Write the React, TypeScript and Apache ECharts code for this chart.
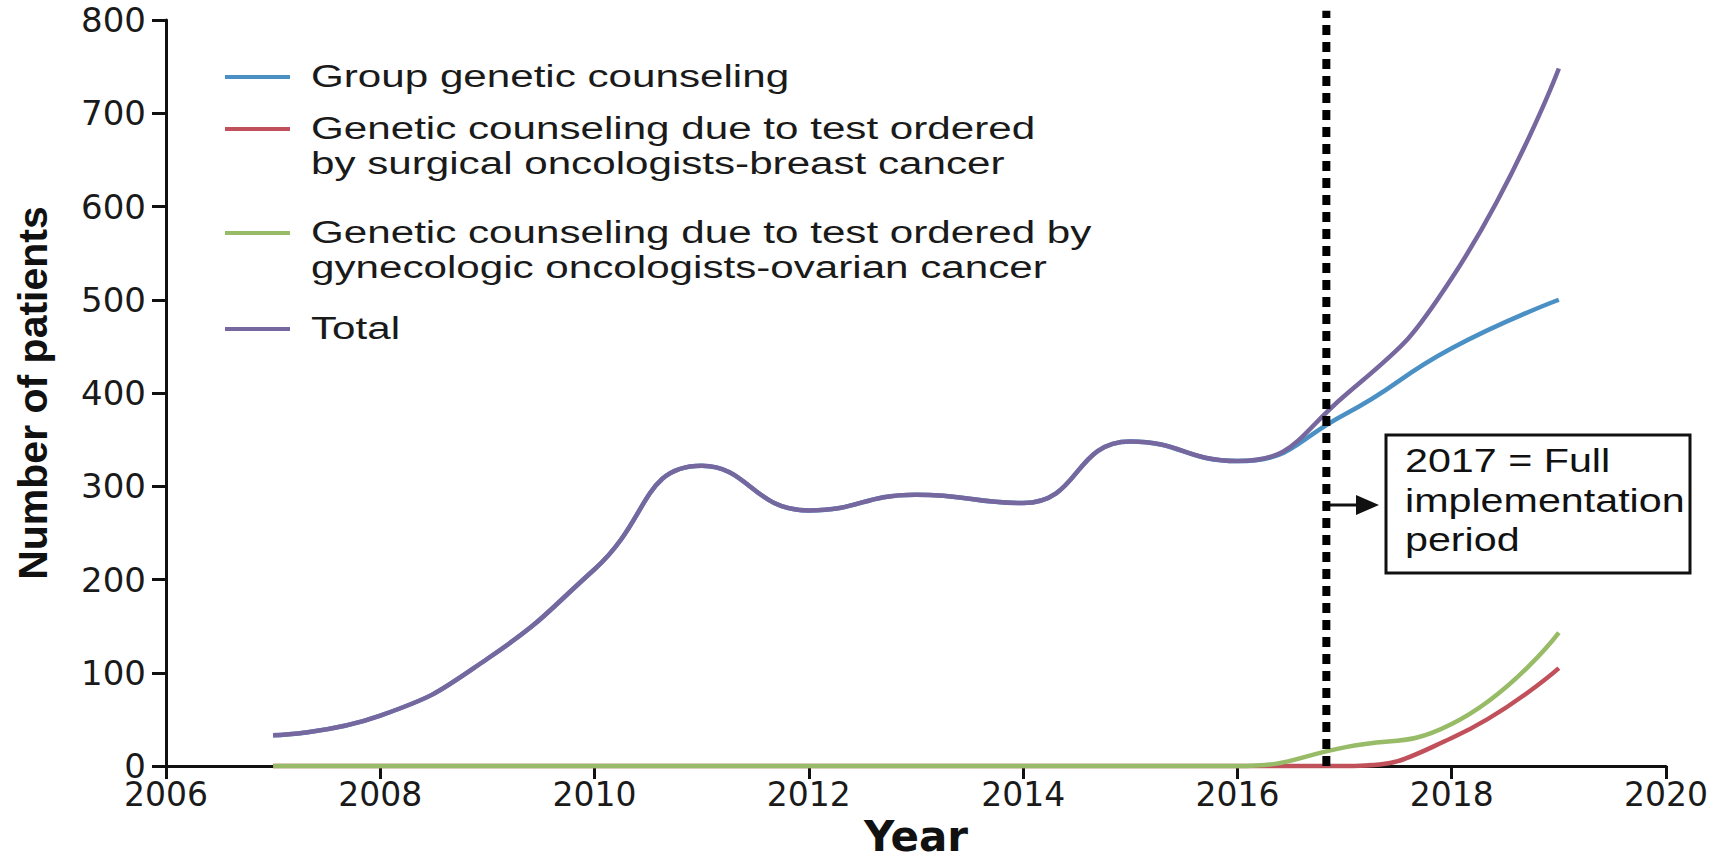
import React, { useEffect, useRef } from "react";
import * as echarts from "echarts";

// ---- data ----
const years = [2007, 2008, 2009, 2010, 2011, 2012, 2013, 2014, 2015, 2016, 2017, 2018, 2019];
const groupCounseling = [33, 54, 115, 211, 322, 274, 291, 282, 348, 327, 377, 448, 500];
const surgicalBreast = [0, 0, 0, 0, 0, 0, 0, 0, 0, 0, 0, 30, 105];
const gynecologicOvarian = [0, 0, 0, 0, 0, 0, 0, 0, 0, 0, 20, 45, 143];
const totalPatients = [33, 54, 115, 211, 322, 274, 291, 282, 348, 327, 397, 523, 748];

const seriesNames = [
  "Group genetic counseling",
  "Genetic counseling due to test ordered by surgical oncologists-breast cancer",
  "Genetic counseling due to test ordered by gynecologic oncologists-ovarian cancer",
  "Total",
];
const legendLabels = [
  ["Group genetic counseling"],
  ["Genetic counseling due to test ordered", "by surgical oncologists-breast cancer"],
  ["Genetic counseling due to test ordered by", "gynecologic oncologists-ovarian cancer"],
  ["Total"],
];
const seriesColors = ["#4a90c4", "#c0505a", "#98bb68", "#76679f"];

const xMin = 2006;
const xMax = 2020;
const xStep = 2;
const yMin = 0;
const yMax = 800;
const yStep = 100;

// vertical dashed marker ("2017 = Full implementation period")
const implementationLineX = [2016.83, 2016.83];
const implementationLineY = [0, 810];
const annotationLines = ["2017 = Full", "implementation", "period"];

const FONT = "'DejaVu Sans', 'Liberation Sans', Arial, sans-serif";
const ARIAL = "'Liberation Sans', Arial, Helvetica, sans-serif";

export default function App() {
  const ref = useRef<HTMLDivElement>(null);

  useEffect(() => {
    if (!ref.current) return;
    const chart = echarts.init(ref.current, null, { renderer: "svg" });

    const pairs = (xs: number[], vals: number[]) => xs.map((x, i) => [x, vals[i]]);
    const seriesValues = [groupCounseling, surgicalBreast, gynecologicOvarian, totalPatients];

    const series: any[] = seriesValues.map((vals, i) => ({
      name: seriesNames[i],
      type: "line",
      data: pairs(years, vals),
      smooth: 0.5,
      showSymbol: false,
      symbol: "none",
      lineStyle: { color: seriesColors[i], width: 4.5 },
      itemStyle: { color: seriesColors[i] },
      z: 2 + i,
      clip: false,
    }));

    series.push({
      name: "Full implementation",
      type: "line",
      data: pairs(implementationLineX, implementationLineY),
      showSymbol: false,
      symbol: "none",
      lineStyle: { color: "#000", width: 8, type: [10, 7], cap: "butt" },
      itemStyle: { color: "#000" },
      z: 20,
      clip: false,
      silent: true,
    });

    // legend drawn as graphic (icon aligned with the first text line)
    const legendIconY = [77, 129, 233, 329];
    const legendLineH = 35;
    const graphics: any[] = [];
    legendLabels.forEach((lines, i) => {
      graphics.push({
        type: "line",
        shape: { x1: 225, y1: legendIconY[i], x2: 290, y2: legendIconY[i] },
        style: { stroke: seriesColors[i], lineWidth: 4 },
        silent: true,
      });
      graphics.push({
        type: "text",
        x: 311,
        y: legendIconY[i] - legendLineH / 2,
        scaleX: 1.36,
        style: {
          text: lines.join("\n"),
          fontFamily: ARIAL,
          fontSize: 31,
          lineHeight: legendLineH,
          fill: "#1a1a1a",
          align: "left",
          verticalAlign: "top",
        },
        silent: true,
      });
    });

    // annotation box and arrow
    graphics.push({
      type: "rect",
      shape: { x: 1386, y: 435, width: 304, height: 138 },
      style: { fill: "#fff", stroke: "#111", lineWidth: 3 },
      silent: true,
      z: 10,
    });
    graphics.push({
      type: "text",
      x: 1405,
      y: 441,
      scaleX: 1.25,
      style: {
        text: annotationLines.join("\n"),
        fontFamily: ARIAL,
        fontSize: 33,
        lineHeight: 39.5,
        fill: "#111",
        align: "left",
        verticalAlign: "top",
      },
      silent: true,
      z: 11,
    });
    graphics.push({
      type: "line",
      shape: { x1: 1327, y1: 505, x2: 1360, y2: 505 },
      style: { stroke: "#111", lineWidth: 3 },
      silent: true,
      z: 10,
    });
    graphics.push({
      type: "polygon",
      shape: { points: [[1356, 495], [1379, 505], [1356, 515]] },
      style: { fill: "#111" },
      silent: true,
      z: 10,
    });

    chart.setOption({
      animation: false,
      backgroundColor: "#ffffff",
      grid: {
        left: 166,
        right: 50,
        top: 20,
        bottom: 99,
        containLabel: false,
        outerBoundsMode: "none",
      },
      xAxis: {
        type: "value",
        min: xMin,
        max: xMax,
        interval: xStep,
        name: "Year",
        nameLocation: "middle",
        nameGap: 48,
        nameTextStyle: { fontFamily: FONT, fontSize: 42, fontWeight: "bold", color: "#111" },
        axisLine: { show: true, onZero: false, lineStyle: { color: "#111", width: 3 } },
        axisTick: { show: true, length: 13, lineStyle: { color: "#111", width: 3 } },
        axisLabel: {
          fontFamily: FONT,
          fontSize: 33,
          lineHeight: 28,
          color: "#1a1a1a",
          margin: 14,
          formatter: (v: number) => String(v),
        },
        splitLine: { show: false },
      },
      yAxis: {
        type: "value",
        min: yMin,
        max: yMax,
        interval: yStep,
        name: "Number of patients",
        nameLocation: "middle",
        nameGap: 113,
        nameRotate: 90,
        nameTextStyle: {
          fontFamily: ARIAL,
          fontSize: 41,
          fontWeight: "bold",
          color: "#111",
        },
        axisLine: { show: true, lineStyle: { color: "#111", width: 3 } },
        axisTick: { show: true, length: 14, lineStyle: { color: "#111", width: 3 } },
        axisLabel: {
          fontFamily: FONT,
          fontSize: 34,
          lineHeight: 26,
          color: "#1a1a1a",
          margin: 20,
        },
        splitLine: { show: false },
      },
      series,
      graphic: graphics,
    });

    return () => chart.dispose();
  }, []);

  return (
    <div
      ref={ref}
      style={{ position: "fixed", left: 0, top: 0, width: 1716, height: 865, background: "#fff" }}
    />
  );
}
